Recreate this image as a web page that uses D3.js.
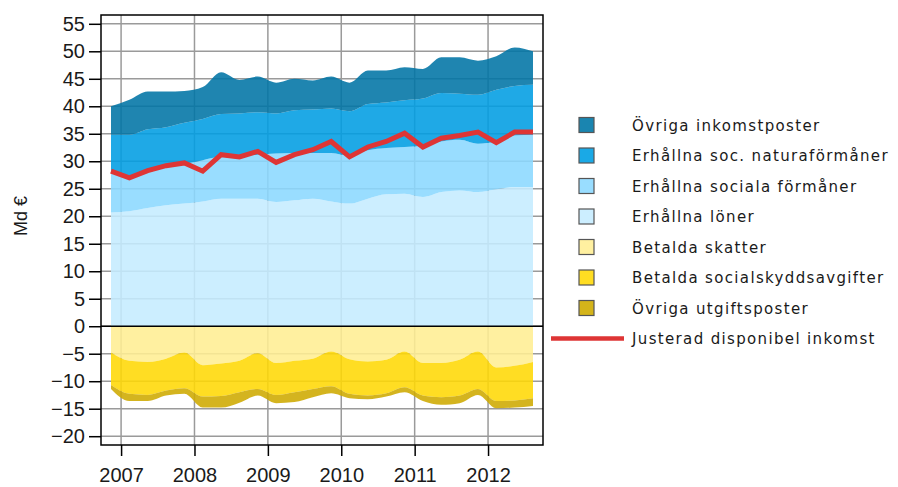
<!DOCTYPE html>
<html>
<head>
<meta charset="utf-8">
<script src="https://cdn.jsdelivr.net/npm/d3@7"></script>
<style>
  body { margin: 0; background: #fff; }
  svg { display: block; }
  .tick text { font-family: "Liberation Sans", Arial, sans-serif; }
</style>
</head>
<body>
<div id="chart"></div>
<script>
// quarters 2007Q1 .. 2012Q4
const quarters = d3.range(2007, 2013).flatMap(y => [1, 2, 3, 4].map(q => y + "Q" + q));
const years = [2007, 2008, 2009, 2010, 2011, 2012];
const yTicks = d3.range(-20, 56, 5);

// income side (Md €)
const wages = [20.7, 20.9, 21.5, 22.0, 22.3, 22.7, 23.2, 23.2, 23.2, 22.6, 22.9, 23.2, 22.7, 22.3, 23.2, 24.0, 24.1, 23.5, 24.4, 24.7, 24.4, 24.9, 25.3, 25.3];
const socialBenefits = [7.3, 6.4, 6.7, 6.8, 7.2, 7.5, 7.6, 7.7, 8.0, 8.8, 8.6, 8.3, 8.8, 8.7, 8.8, 8.4, 8.5, 9.3, 9.2, 9.2, 8.8, 8.7, 9.4, 9.5];
const benefitsInKind = [6.8, 7.5, 7.6, 7.4, 7.5, 7.5, 7.8, 7.8, 7.7, 7.3, 7.8, 7.9, 8.1, 8.1, 8.4, 8.3, 8.5, 8.6, 8.8, 8.4, 8.9, 9.4, 9.0, 9.1];
const otherIncome = [5.2, 6.4, 6.9, 6.5, 5.8, 5.8, 7.6, 6.1, 6.5, 5.6, 5.7, 5.3, 5.8, 5.2, 6.1, 5.8, 6.0, 5.4, 6.5, 6.6, 6.2, 6.1, 7.0, 6.1];
// expenditure side
const taxes = [-4.8, -6.3, -6.5, -5.9, -4.8, -7.1, -6.8, -6.3, -4.9, -6.7, -6.3, -5.9, -4.6, -6.0, -6.4, -6.1, -4.6, -6.7, -6.7, -6.1, -4.6, -7.5, -7.2, -6.5];
const socialContrib = [-5.9, -6.0, -6.0, -5.8, -6.5, -5.7, -5.9, -5.7, -6.5, -5.8, -5.7, -5.5, -6.3, -6.3, -6.2, -6.1, -6.5, -5.9, -6.2, -6.5, -6.8, -6.1, -6.3, -6.6];
const otherExpenses = [-0.7, -1.3, -1.1, -0.9, -1.0, -2.0, -2.1, -1.9, -1.2, -1.5, -1.8, -1.5, -1.3, -0.8, -0.7, -0.6, -0.9, -1.0, -1.4, -1.4, -1.1, -1.3, -1.3, -1.4];
// adjusted disposable income
const adjIncome = [28.2, 27.0, 28.3, 29.2, 29.7, 28.2, 31.2, 30.8, 31.8, 29.8, 31.2, 32.1, 33.6, 30.8, 32.6, 33.6, 35.1, 32.6, 34.2, 34.7, 35.3, 33.4, 35.3, 35.3];

const seriesNames = ["Erhållna löner", "Erhållna sociala förmåner", "Erhållna soc. naturaförmåner", "Övriga inkomstposter",
  "Betalda skatter", "Betalda socialskyddsavgifter", "Övriga utgiftsposter"];
const seriesValues = [wages, socialBenefits, benefitsInKind, otherIncome, taxes, socialContrib, otherExpenses];
const fills = ["#c5ecff", "#8bd8ff", "#009de2", "#0074a5", "#ffee93", "#ffd804", "#ceaa00"];
const swatch = ["#cceeff", "#99ddff", "#1aa9e6", "#1a85b0", "#fff0a0", "#ffdd22", "#d4b41a"];
const legendOrder = [3, 2, 1, 0, 4, 5, 6];
const lineName = "Justerad disponibel inkomst";

const W = 898, H = 487;
const plot = { left: 101, right: 543, top: 15, bottom: 445 };

const rows = quarters.map((q, i) => {
  const r = { q: q, i: i };
  seriesNames.forEach((n, k) => r[n] = seriesValues[k][i]);
  return r;
});

const x = d3.scaleLinear().domain([0, quarters.length - 1]).range([plot.left + 10, plot.right - 10]);
const y = d3.scaleLinear().domain([-21.6, 56.6]).range([plot.bottom, plot.top]);
const yearIdx = yr => (yr - 2007) * 4 + 0.55;

const svg = d3.select("#chart").append("svg").attr("width", W).attr("height", H);
svg.append("rect").attr("width", W).attr("height", H).attr("fill", "#fff");

// grid
const grid = svg.append("g").attr("stroke", "#9a9a9a").attr("stroke-width", 1.5);
grid.selectAll("line.h").data(yTicks).enter().append("line").attr("class", "h")
  .attr("x1", plot.left).attr("x2", plot.right)
  .attr("y1", d => y(d)).attr("y2", d => y(d));
grid.selectAll("line.v").data(years).enter().append("line").attr("class", "v")
  .attr("x1", d => x(yearIdx(d))).attr("x2", d => x(yearIdx(d)))
  .attr("y1", plot.top).attr("y2", plot.bottom);

// stacked areas
const stack = d3.stack().keys(seriesNames).offset(d3.stackOffsetDiverging);
const layers = stack(rows);
const area = d3.area()
  .curve(d3.curveMonotoneX)
  .x((d, i) => x(i))
  .y0(d => y(d[0]))
  .y1(d => y(d[1]));
svg.append("g").selectAll("path").data(layers).enter().append("path")
  .attr("d", area)
  .attr("fill", (d, i) => fills[i])
  .attr("fill-opacity", 0.88);

// zero line
svg.append("line").attr("x1", plot.left).attr("x2", plot.right)
  .attr("y1", y(0)).attr("y2", y(0)).attr("stroke", "#000").attr("stroke-width", 1.5);

// income line
const line = d3.line().x((d, i) => x(i)).y(d => y(d));
svg.append("path").datum(adjIncome).attr("d", line)
  .attr("fill", "none").attr("stroke", "#de3535").attr("stroke-width", 5).attr("stroke-linejoin", "miter");

// frame
svg.append("rect").attr("x", plot.left).attr("y", plot.top)
  .attr("width", plot.right - plot.left).attr("height", plot.bottom - plot.top)
  .attr("fill", "none").attr("stroke", "#000").attr("stroke-width", 1.5);

// axes
const yAxis = svg.append("g").attr("transform", "translate(" + plot.left + ",0)")
  .call(d3.axisLeft(y).tickValues(yTicks).tickSize(12).tickPadding(4).tickFormat(d3.format("d")));
const xAxis = svg.append("g").attr("transform", "translate(0," + plot.bottom + ")")
  .call(d3.axisBottom(x).tickValues(years.map(yearIdx))
    .tickSize(11).tickPadding(12).tickFormat((d, i) => years[i]));
[yAxis, xAxis].forEach(a => {
  a.select(".domain").remove();
  a.selectAll(".tick line").attr("stroke", "#000").attr("stroke-width", 1.5);
  a.selectAll(".tick text").attr("fill", "#1a1a1a").style("font-size", "20px");
});

svg.append("text").attr("transform", "translate(27,216) rotate(-90)")
  .attr("text-anchor", "middle").attr("font-family", "Liberation Sans, Arial, sans-serif")
  .attr("font-size", "18px").attr("fill", "#1a1a1a").text("Md €");

// legend
const legend = svg.append("g").attr("font-family", "DejaVu Sans, sans-serif").attr("font-size", "15px")
  .attr("letter-spacing", "1.35px").attr("fill", "#1a1a1a");
legendOrder.forEach((k, j) => {
  const cy = 125 + j * 30.5;
  legend.append("rect").attr("x", 579).attr("y", cy - 7.5).attr("width", 15).attr("height", 15)
    .attr("fill", swatch[k]).attr("stroke", "#555").attr("stroke-width", 1.2);
  legend.append("text").attr("x", 632).attr("y", cy + 5.5).text(seriesNames[k]);
});
legend.append("line").attr("x1", 551).attr("x2", 624).attr("y1", 338.5).attr("y2", 338.5)
  .attr("stroke", "#de3535").attr("stroke-width", 4.5);
legend.append("text").attr("x", 632).attr("y", 344).text(lineName);
</script>
</body>
</html>
